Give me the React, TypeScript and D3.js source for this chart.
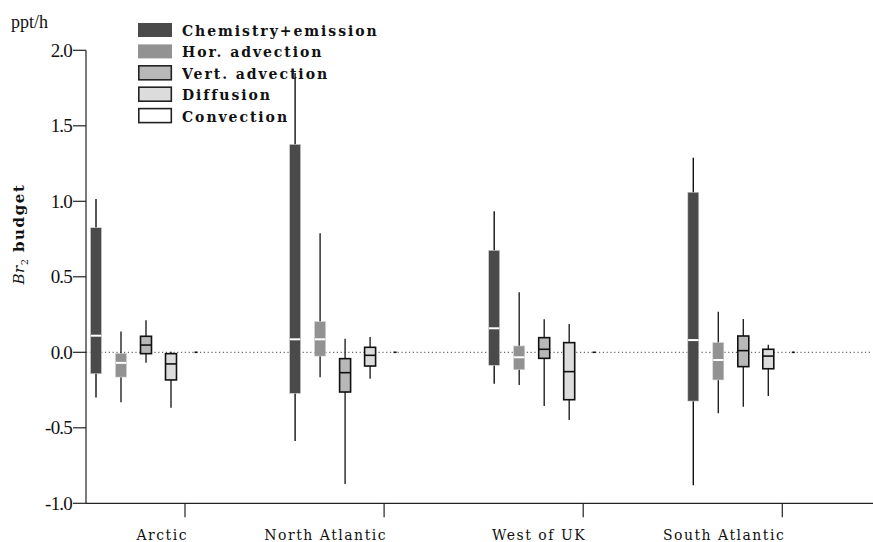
import React from "react";
import * as d3 from "d3";

const categories = ["Arctic", "North Atlantic", "West of UK", "South Atlantic"];
const seriesNames = ["Chemistry+emission", "Hor. advection", "Vert. advection", "Diffusion", "Convection"];
const yTicks = [2.0, 1.5, 1.0, 0.5, 0.0, -0.5, -1.0];

// [min, q1, median, q3, max] per category
const chemistry = [
  [-0.30, -0.142, 0.11, 0.825, 1.015],
  [-0.587, -0.272, 0.086, 1.377, 1.85],
  [-0.208, -0.086, 0.159, 0.675, 0.934],
  [-0.881, -0.323, 0.081, 1.06, 1.289],
];
const horAdvection = [
  [-0.33, -0.164, -0.07, -0.007, 0.137],
  [-0.166, -0.025, 0.086, 0.203, 0.788],
  [-0.217, -0.115, -0.033, 0.042, 0.397],
  [-0.404, -0.183, -0.051, 0.064, 0.269],
];
const vertAdvection = [
  [-0.069, -0.009, 0.048, 0.106, 0.212],
  [-0.872, -0.263, -0.135, -0.042, 0.09],
  [-0.356, -0.04, 0.02, 0.097, 0.219],
  [-0.36, -0.095, 0.011, 0.108, 0.221],
];
const diffusion = [
  [-0.367, -0.183, -0.077, -0.009, 0.004],
  [-0.175, -0.091, -0.02, 0.033, 0.101],
  [-0.448, -0.314, -0.128, 0.064, 0.187],
  [-0.289, -0.109, -0.025, 0.02, 0.05],
];
const convection = [
  [0, 0, 0, 0, 0],
  [0, 0, 0, 0, 0],
  [0, 0, 0, 0, 0],
  [0, 0, 0, 0, 0],
];

const allSeries = [chemistry, horAdvection, vertAdvection, diffusion, convection];
const fills = ["#4a4a4a", "#929292", "#b8b8b8", "#dcdcdc", "#ffffff"];
const bordered = [false, false, true, true, true];
const medianColor = ["#ffffff", "#ffffff", "#111111", "#111111", "#111111"];

const W = 873;
const H = 542;
const axisX = 86;
const times = "Liberation Serif, Times New Roman, serif";
const wide = "DejaVu Serif, serif";

export default function App() {
  const y = d3.scaleLinear().domain([-1, 2]).range([503.3, 50.3]);
  const xCat = d3.scalePoint<string>().domain(categories).range([96, 693.3]);
  const xSer = d3.scalePoint<string>().domain(seriesNames).range([0, 100]);
  const boxW = 11;

  return (
    <svg width={W} height={H} style={{ position: "absolute", left: 0, top: 0, background: "#fff" }}>
      {/* unit label */}
      <text x={11} y={28} style={{ fontFamily: times }} fontSize={18} fill="#111">ppt/h</text>

      {/* y title */}
      <text
        transform="translate(24,234) rotate(-90)"
        textAnchor="middle"
        style={{ fontFamily: wide }}
        fontSize={15}
        fill="#111"
      >
        <tspan fontStyle="italic" letterSpacing={0.5}>Br</tspan>
        <tspan fontSize={10} dy={4}>2</tspan>
        <tspan fontWeight="bold" dy={-4} letterSpacing={1.6}> budget</tspan>
      </text>

      {/* y axis */}
      <line x1={axisX} x2={axisX} y1={y(2)} y2={y(-1)} stroke="#222" strokeWidth={1.2} />
      {yTicks.map((t) => (
        <g key={t}>
          <line x1={axisX - 13} x2={axisX} y1={y(t)} y2={y(t)} stroke="#222" strokeWidth={1.2} />
          <text
            x={axisX - 14}
            y={y(t) + 6.5}
            textAnchor="end"
            style={{ fontFamily: times }}
            fontSize={19}
            letterSpacing={-0.8}
            fill="#111"
          >
            {t.toFixed(1)}
          </text>
        </g>
      ))}

      {/* x axis */}
      <line x1={axisX} x2={W} y1={y(-1)} y2={y(-1)} stroke="#222" strokeWidth={1.2} />
      {categories.map((c) => {
        const tx = (xCat(c) as number) + 89;
        return (
          <g key={c}>
            <line x1={tx} x2={tx} y1={y(-1)} y2={y(-1) + 14} stroke="#222" strokeWidth={1.2} />
            <text
              x={tx + 3}
              y={540}
              textAnchor="end"
              style={{ fontFamily: wide }}
              fontSize={14}
              letterSpacing={1.5}
              fill="#111"
            >
              {c}
            </text>
          </g>
        );
      })}

      {/* zero line */}
      <line x1={axisX} x2={W - 1} y1={y(0)} y2={y(0)} stroke="#444" strokeWidth={1} strokeDasharray="1.2,2.6" />

      {/* boxes */}
      {allSeries.map((ser, si) =>
        ser.map((d, ci) => {
          const cx = (xCat(categories[ci]) as number) + (xSer(seriesNames[si]) as number);
          const [mn, q1, md, q3, mx] = d;
          if (q3 - q1 < 1e-6 && mx - mn < 1e-6) {
            return (
              <rect key={`${si}-${ci}`} x={cx - 1.5} y={y(md) - 0.8} width={3} height={1.6} fill="#111" />
            );
          }
          return (
            <g key={`${si}-${ci}`}>
              <line x1={cx} x2={cx} y1={y(mx)} y2={y(mn)} stroke={si === 0 ? "#111" : "#222"} strokeWidth={1.4} />
              <rect
                x={cx - boxW / 2}
                y={y(q3)}
                width={boxW}
                height={y(q1) - y(q3)}
                fill={fills[si]}
                stroke={bordered[si] ? "#111" : "#cfcfcf"}
                strokeWidth={bordered[si] ? 1.6 : 0.6}
              />
              <line
                x1={cx - boxW / 2 + (bordered[si] ? 0 : 0.3)}
                x2={cx + boxW / 2 - (bordered[si] ? 0 : 0.3)}
                y1={y(md)}
                y2={y(md)}
                stroke={medianColor[si]}
                strokeWidth={bordered[si] ? 1.6 : 2}
              />
            </g>
          );
        })
      )}

      {/* legend */}
      {seriesNames.map((s, i) => {
        const ly = 23 + i * 21.4;
        return (
          <g key={s}>
            <rect
              x={bordered[i] ? 138.8 : 138}
              y={ly}
              width={bordered[i] ? 32.5 : 34}
              height={14}
              fill={fills[i]}
              stroke={bordered[i] ? "#222" : "none"}
              strokeWidth={1.6}
            />
            <text
              x={182}
              y={ly + 13}
              style={{ fontFamily: wide }}
              fontWeight="bold"
              fontSize={14}
              letterSpacing={1.95}
              fill="#111"
            >
              {s}
            </text>
          </g>
        );
      })}
    </svg>
  );
}
